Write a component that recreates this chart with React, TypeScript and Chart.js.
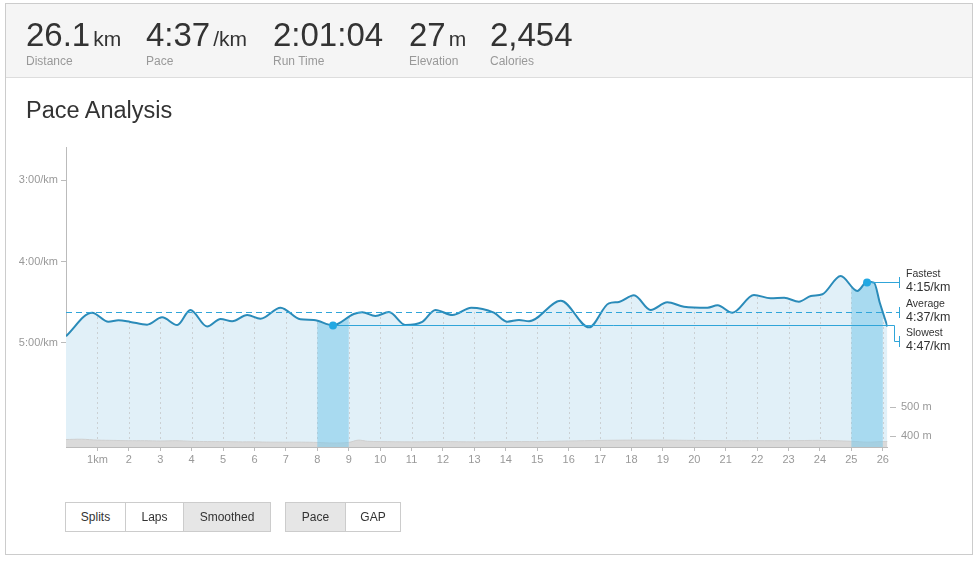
import React, { useEffect, useRef } from "react";
import { Chart, registerables } from "chart.js";

Chart.register(...registerables);

const FONT = "'Liberation Sans', Arial, Helvetica, sans-serif";

// ---- data ----
const paceKm = [0, 0.83, 1.35, 1.67, 2.05, 2.58, 3.06, 3.54, 3.96, 4.49, 4.92, 5.29, 5.77, 6.19, 6.83, 7.46, 7.89, 8.5, 9.16, 9.43, 9.85, 10.28, 10.81, 11.34, 11.76, 12.3, 12.9, 13.62, 14.05, 14.42, 14.74, 15.75, 16.65, 17.28, 17.6, 18.08, 18.61, 19.14, 19.67, 20.42, 20.74, 21.21, 21.9, 22.43, 22.86, 23.33, 23.71, 24.08, 24.66, 25.19, 25.5, 25.72, 25.91, 26.15];
const paceSec = [295, 277.7, 284.3, 283.3, 284.5, 286.5, 281.1, 286.8, 275.7, 287.8, 282.3, 284, 279.4, 282.1, 274, 282.6, 283.1, 287, 278.7, 277.4, 280.1, 277.2, 286.8, 284.5, 275.7, 279.4, 274, 277.7, 284.3, 283.1, 284, 268.9, 288.5, 270.8, 269.8, 264.9, 275.7, 270, 273.3, 274, 272.2, 277.7, 264.7, 267.1, 266.7, 269.6, 265.4, 264.1, 250.7, 261.7, 255, 255.6, 270.8, 288];

const elevKm = [0, 0.5, 1, 1.5, 2, 2.5, 3, 3.5, 4, 4.5, 5, 5.5, 6, 6.5, 7, 7.5, 8, 8.5, 9, 9.3, 9.6, 10, 11, 12, 13, 14, 15, 16, 17, 18, 19, 20, 21, 22, 23, 24, 25, 25.5, 26, 26.15];
const elevM = [388, 389, 386, 385, 384, 384, 383, 384, 382, 381, 381, 380, 380, 379, 379, 379, 378, 376, 378, 386, 382, 381, 380, 381, 380, 381, 381, 383, 385, 386, 386, 385, 384, 384, 384, 385, 382, 379, 381, 381];

const kmTicks = [1, 2, 3, 4, 5, 6, 7, 8, 9, 10, 11, 12, 13, 14, 15, 16, 17, 18, 19, 20, 21, 22, 23, 24, 25, 26];
const paceTicks = [180, 240, 300];
const elevTicks = [400, 500];

const highlightBands = [[8, 9], [25, 26]];
const fastest = { km: 25.5, sec: 255, label: "Fastest", text: "4:15/km" };
const slowest = { km: 8.5, sec: 287, label: "Slowest", text: "4:47/km" };
const average = { sec: 277, label: "Average", text: "4:37/km" };

const summaryValues = ["26.1", "4:37", "2:01:04", "27", "2,454"];
const summaryUnits = ["km", "/km", "", "m", ""];
const summaryLabels = ["Distance", "Pace", "Run Time", "Elevation", "Calories"];

const viewButtons = ["Splits", "Laps", "Smoothed"];
const metricButtons = ["Pace", "GAP"];

// ---- helpers ----
function fmtPace(v: number) {
  const m = Math.floor(v / 60);
  const s = Math.round(v - m * 60);
  return `${m}:${String(s).padStart(2, "0")}/km`;
}

function tracePaceArea(chart: any, ctx: CanvasRenderingContext2D) {
  const meta = chart.getDatasetMeta(0);
  const line = meta.dataset as any;
  const a = chart.chartArea;
  const pts = meta.data;
  ctx.beginPath();
  if (line && typeof line.path === "function") {
    if (typeof line.updateControlPoints === "function") line.updateControlPoints(a, "x");
    line.path(ctx);
  } else {
    pts.forEach((p: any, i: number) => (i ? ctx.lineTo(p.x, p.y) : ctx.moveTo(p.x, p.y)));
  }
  ctx.lineTo(pts[pts.length - 1].x, a.bottom);
  ctx.lineTo(pts[0].x, a.bottom);
  ctx.closePath();
}

function clipArea(chart: any, ctx: CanvasRenderingContext2D) {
  const a = chart.chartArea;
  ctx.beginPath();
  ctx.rect(a.left, a.top, a.right - a.left, a.bottom - a.top);
  ctx.clip();
  tracePaceArea(chart, ctx);
  ctx.clip();
}

const paceDecor = {
  id: "paceDecor",
  beforeDatasetsDraw(chart: any) {
    const { ctx, chartArea: a, scales } = chart;
    const x = scales.x;
    ctx.save();
    clipArea(chart, ctx);
    ctx.fillStyle = "#e1f0f8";
    ctx.fillRect(a.left, a.top, a.right - a.left, a.bottom - a.top);
    ctx.strokeStyle = "#cbd0d3";
    ctx.lineWidth = 1;
    ctx.setLineDash([2, 3]);
    ctx.beginPath();
    kmTicks.forEach((k) => {
      const px = Math.round(x.getPixelForValue(k)) + 0.5;
      ctx.moveTo(px, a.top);
      ctx.lineTo(px, a.bottom);
    });
    ctx.stroke();
    ctx.restore();
  },
  beforeDatasetDraw(chart: any, args: any) {
    if (args.index !== 0) return;
    const { ctx, chartArea: a, scales } = chart;
    const x = scales.x;
    ctx.save();
    clipArea(chart, ctx);
    ctx.fillStyle = "rgba(120,200,232,0.54)";
    highlightBands.forEach(([k0, k1]) => {
      const x0 = x.getPixelForValue(k0);
      const x1 = x.getPixelForValue(k1);
      ctx.fillRect(x0, a.top, x1 - x0, a.bottom - a.top);
    });
    ctx.restore();
  },
  afterDatasetsDraw(chart: any) {
    const { ctx, chartArea: a, scales } = chart;
    const x = scales.x;
    const y = scales.y;
    const y2 = scales.y2;
    const xEnd = Math.round(a.right) + 11.5;
    const xMid = Math.round(a.right) + 6.5;
    const yAvg = Math.round(y.getPixelForValue(average.sec)) + 0.5;
    const ySlow = Math.round(y.getPixelForValue(slowest.sec)) + 0.5;
    const yFast = Math.round(y.getPixelForValue(fastest.sec)) + 0.5;
    const ySlowLbl = ySlow + 16;
    const xSlow = x.getPixelForValue(slowest.km);
    const xFast = x.getPixelForValue(fastest.km);

    ctx.save();
    ctx.strokeStyle = "#30a5d9";
    ctx.lineWidth = 1;
    // average dashed
    ctx.setLineDash([6, 4]);
    ctx.beginPath();
    ctx.moveTo(a.left, yAvg);
    ctx.lineTo(xEnd, yAvg);
    ctx.stroke();
    ctx.setLineDash([]);
    ctx.beginPath();
    // ticks
    ctx.moveTo(xEnd, yAvg - 5.5);
    ctx.lineTo(xEnd, yAvg + 5.5);
    // fastest
    ctx.moveTo(xFast, yFast);
    ctx.lineTo(xEnd, yFast);
    ctx.moveTo(xEnd, yFast - 5.5);
    ctx.lineTo(xEnd, yFast + 5.5);
    // slowest
    ctx.moveTo(xSlow, ySlow);
    ctx.lineTo(xMid, ySlow);
    ctx.lineTo(xMid, ySlowLbl);
    ctx.lineTo(xEnd, ySlowLbl);
    ctx.moveTo(xEnd, ySlowLbl - 5.5);
    ctx.lineTo(xEnd, ySlowLbl + 5.5);
    ctx.stroke();

    // markers
    ctx.fillStyle = "#22a8e2";
    [[xSlow, ySlow], [xFast, yFast]].forEach(([px, py]) => {
      ctx.beginPath();
      ctx.arc(px, py, 4, 0, Math.PI * 2);
      ctx.fill();
    });

    // labels
    ctx.fillStyle = "#333";
    ctx.textAlign = "left";
    ctx.textBaseline = "middle";
    const tx = xEnd + 6.5;
    const rows: [any, number][] = [[fastest, yFast], [average, yAvg], [slowest, ySlowLbl]];
    rows.forEach(([info, yy]) => {
      ctx.font = `10.5px ${FONT}`;
      ctx.fillText(info.label, tx, yy - 8);
      ctx.font = `12.5px ${FONT}`;
      ctx.fillText(info.text, tx, yy + 5);
    });

    // elevation tick marks
    ctx.strokeStyle = "#bbb";
    ctx.beginPath();
    elevTicks.forEach((v) => {
      const py = Math.round(y2.getPixelForValue(v)) + 0.5;
      ctx.moveTo(Math.round(a.right) + 2, py);
      ctx.lineTo(Math.round(a.right) + 8, py);
    });
    ctx.stroke();
    ctx.restore();
  },
};

function PaceChart() {
  const ref = useRef<HTMLCanvasElement>(null);
  useEffect(() => {
    const canvas = ref.current;
    if (!canvas) return;
    const tickFont = { family: FONT, size: 11 };
    const chart = new Chart(canvas, {
      type: "line",
      data: {
        datasets: [
          {
            label: "Pace",
            data: paceKm.map((k, i) => ({ x: k, y: paceSec[i] })),
            yAxisID: "y",
            borderColor: "#2a8bb9",
            borderWidth: 2,
            pointRadius: 0,
            fill: false,
            cubicInterpolationMode: "monotone",
            order: 1,
          } as any,
          {
            label: "Elevation",
            data: elevKm.map((k, i) => ({ x: k, y: elevM[i] })),
            yAxisID: "y2",
            borderColor: "#cfcfcf",
            borderWidth: 1,
            backgroundColor: "#dadada",
            pointRadius: 0,
            fill: "start",
            tension: 0.3,
            order: 2,
          } as any,
        ],
      },
      options: {
        animation: false,
        responsive: false,
        devicePixelRatio: 1,
        layout: { padding: { top: 147, left: 0, right: 0, bottom: 0 } },
        plugins: { legend: { display: false }, tooltip: { enabled: false } },
        events: [],
        scales: {
          x: {
            type: "linear",
            min: 0,
            max: 26.15,
            afterBuildTicks: (s: any) => {
              s.ticks = kmTicks.map((v) => ({ value: v }));
            },
            afterFit: (s: any) => {
              s.height = 116;
            },
            ticks: {
              autoSkip: false,
              maxRotation: 0,
              padding: 2,
              color: "#999",
              font: tickFont,
              callback: (v: any) => (v === 1 ? "1km" : String(v)),
            },
            grid: { drawOnChartArea: false, drawTicks: true, tickLength: 4, color: "#bbb" },
            border: { display: true, color: "#bbb" },
          },
          y: {
            type: "linear",
            position: "left",
            reverse: true,
            min: 155.7,
            max: 376.6,
            afterBuildTicks: (s: any) => {
              s.ticks = paceTicks.map((v) => ({ value: v }));
            },
            afterFit: (s: any) => {
              s.width = 66;
            },
            ticks: { padding: 3, color: "#999", font: tickFont, callback: (v: any) => fmtPace(Number(v)) },
            grid: { drawOnChartArea: false, drawTicks: true, tickLength: 5, color: "#bbb" },
            border: { display: true, color: "#bbb" },
          },
          y2: {
            type: "linear",
            position: "right",
            min: 362.5,
            max: 1386,
            afterBuildTicks: (s: any) => {
              s.ticks = elevTicks.map((v) => ({ value: v }));
            },
            afterFit: (s: any) => {
              s.width = 87.5;
            },
            ticks: { padding: 13.5, color: "#999", font: tickFont, callback: (v: any) => `${v} m` },
            grid: { display: false, drawTicks: false },
            border: { display: false },
          },
        },
      } as any,
      plugins: [paceDecor],
    });
    return () => chart.destroy();
  }, []);
  return (
    <canvas
      ref={ref}
      width={975}
      height={563}
      style={{ position: "absolute", left: 0, top: 0, width: 975, height: 563, display: "block", zIndex: 1 }}
    />
  );
}

export default function App() {
  const itemX = [26, 146, 273, 409, 490];
  const viewLeft = [65, 125, 183];
  const viewWidth = [61, 59, 88];
  const metricLeft = [285, 345];
  const metricWidth = [61, 56];
  const btn = (text: string, left: number, width: number, active: boolean) => (
    <div
      key={text}
      style={{
        position: "absolute",
        left,
        top: 502,
        width,
        height: 30,
        boxSizing: "border-box",
        border: "1px solid #ccc",
        background: active ? "#e6e6e6" : "#fff",
        color: "#333",
        fontSize: 12,
        lineHeight: "28px",
        textAlign: "center",
        zIndex: 2,
      }}
    >
      {text}
    </div>
  );
  return (
    <div
      style={{
        position: "fixed",
        left: 0,
        top: 0,
        width: 975,
        height: 563,
        background: "#fff",
        fontFamily: FONT,
        overflow: "hidden",
      }}
    >
      <div
        style={{
          position: "absolute",
          left: 5,
          top: 3,
          width: 968,
          height: 552,
          boxSizing: "border-box",
          border: "1px solid #ccc",
        }}
      />
      <div
        style={{
          position: "absolute",
          left: 6,
          top: 4,
          width: 966,
          height: 74,
          boxSizing: "border-box",
          background: "#f5f5f5",
          borderBottom: "1px solid #ddd",
        }}
      />
      {summaryValues.map((v, i) => (
        <React.Fragment key={v}>
          <div
            style={{
              position: "absolute",
              left: itemX[i],
              top: 18,
              whiteSpace: "nowrap",
              lineHeight: "33px",
              color: "#333",
              zIndex: 2,
            }}
          >
            <span style={{ fontSize: 33 }}>{v}</span>
            {summaryUnits[i] ? <span style={{ fontSize: 21, marginLeft: 3 }}>{summaryUnits[i]}</span> : null}
          </div>
          <div
            style={{
              position: "absolute",
              left: itemX[i],
              top: 55,
              fontSize: 12,
              lineHeight: "12px",
              color: "#999",
              whiteSpace: "nowrap",
              zIndex: 2,
            }}
          >
            {summaryLabels[i]}
          </div>
        </React.Fragment>
      ))}
      <div
        style={{
          position: "absolute",
          left: 26,
          top: 99,
          fontSize: 23.5,
          lineHeight: "23.5px",
          color: "#333",
          whiteSpace: "nowrap",
          zIndex: 2,
        }}
      >
        Pace Analysis
      </div>
      <PaceChart />
      {viewButtons.map((t, i) => btn(t, viewLeft[i], viewWidth[i], t === "Smoothed"))}
      {metricButtons.map((t, i) => btn(t, metricLeft[i], metricWidth[i], t === "Pace"))}
    </div>
  );
}
